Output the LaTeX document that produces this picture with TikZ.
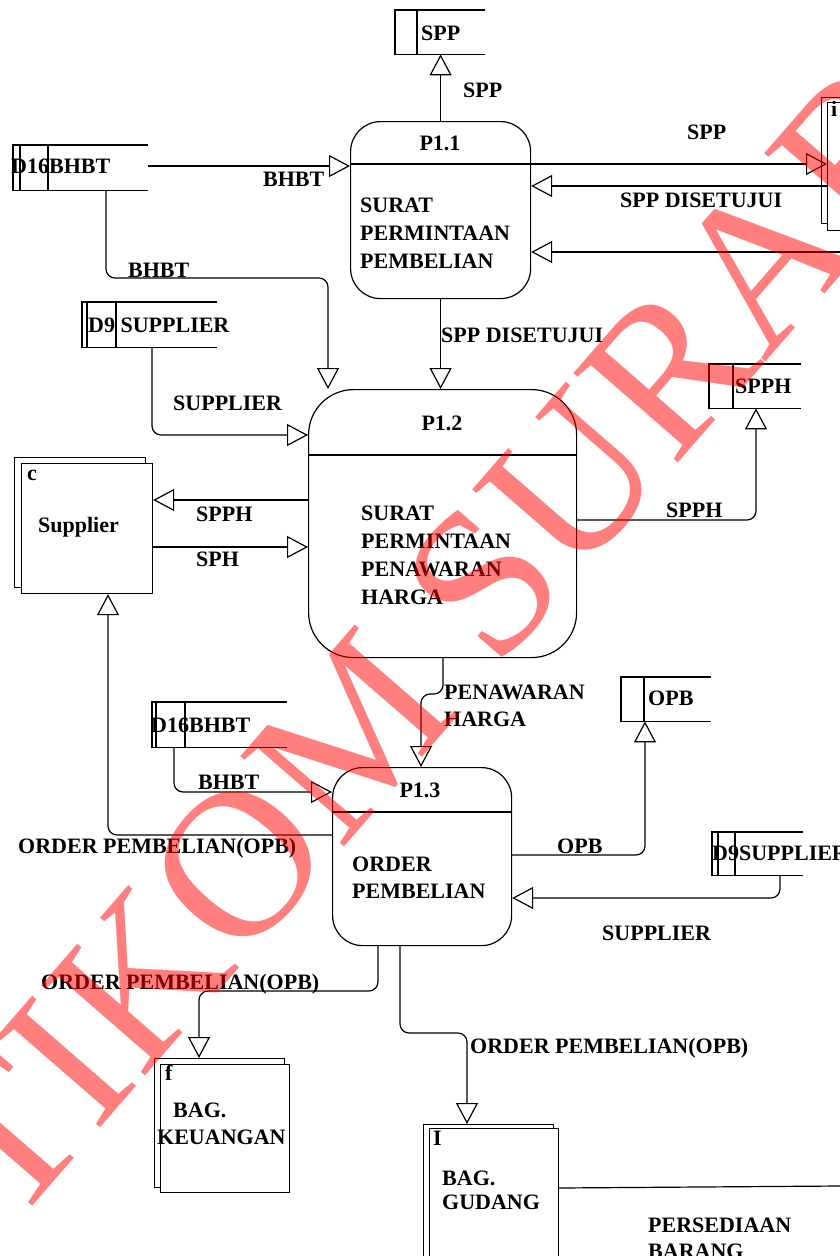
\documentclass[tikz,border=0pt]{standalone}
\usepackage{fontspec}
\setmainfont{Liberation Serif}
\usetikzlibrary{arrows.meta}
\newcommand\lblfont{\bfseries\fontsize{22}{26}\selectfont}
\newcommand\markfont{\fontsize{210}{210}\selectfont}

\begin{document}
\begin{tikzpicture}[x=1pt,y=-1pt,
  ln/.style={line width=1.2pt},
  flow/.style={ln,rounded corners=9pt,-{Triangle[open,length=21pt,width=22pt,line width=1.2pt]}},
  plain/.style={ln,rounded corners=9pt},
  lbl/.style={font=\lblfont,inner sep=0pt,anchor=base west},
  idlbl/.style={font=\lblfont,inner sep=0pt,anchor=base},
  proc/.style={draw,ln,fill=white,inner sep=0pt,anchor=north west},
  holder/.style={inner sep=0pt,anchor=north west},
  ent/.style={draw,ln,fill=white,inner sep=0pt,anchor=north west},
]
\useasboundingbox[fill=white] (0,0) rectangle (840,1256);

% ---------- processes ----------
\node[proc,rounded corners=30pt,minimum width=180pt,minimum height=177pt] (p11) at (350,121) {};
\draw[ln] (p11.west |- 0,164) -- (p11.east |- 0,164);
\node[idlbl] (p11id) at (440,150) {P1.1};
\node[lbl] (p11l1) at (360,212) {SURAT};
\node[lbl] (p11l2) at (360,240) {PERMINTAAN};
\node[lbl] (p11l3) at (360,268) {PEMBELIAN};

\node[proc,rounded corners=45pt,minimum width=268pt,minimum height=268pt] (p12) at (308,389) {};
\draw[ln] (p12.west |- 0,455) -- (p12.east |- 0,455);
\node[idlbl] (p12id) at (442,430) {P1.2};
\node[lbl] (p12l1) at (361,520) {SURAT};
\node[lbl] (p12l2) at (361,548) {PERMINTAAN};
\node[lbl] (p12l3) at (361,576) {PENAWARAN};
\node[lbl] (p12l4) at (361,604) {HARGA};

\node[proc,rounded corners=30pt,minimum width=179pt,minimum height=178pt] (p13) at (332,767) {};
\draw[ln] (p13.west |- 0,812) -- (p13.east |- 0,812);
\node[idlbl] (p13id) at (420,797) {P1.3};
\node[lbl] (p13l1) at (352,871) {ORDER};
\node[lbl] (p13l2) at (352,898) {PEMBELIAN};

% ---------- data stores ----------
\node[holder,minimum width=90pt,minimum height=44pt] (sppS) at (395,10) {};
\draw[ln] (sppS.north east) -- (sppS.north west) -- (sppS.south west) -- (sppS.south east);
\draw[ln] (sppS.north west -| 417,0) -- (sppS.south west -| 417,0);
\node[lbl] (sppSt) at (421,40) {SPP};

\node[holder,minimum width=135pt,minimum height=45pt] (d16a) at (13,145) {};
\draw[ln] (d16a.north east) -- (d16a.north west) -- (d16a.south west) -- (d16a.south east);
\draw[ln] (d16a.north west -| 20,0) -- (d16a.south west -| 20,0);
\draw[ln] (d16a.north west -| 48,0) -- (d16a.south west -| 48,0);
\node[lbl] (d16at) at (11,173) {D16BHBT};

\node[holder,minimum width=135pt,minimum height=45pt] (d9a) at (82,302) {};
\draw[ln] (d9a.north east) -- (d9a.north west) -- (d9a.south west) -- (d9a.south east);
\draw[ln] (d9a.north west -| 87,0) -- (d9a.south west -| 87,0);
\draw[ln] (d9a.north west -| 116,0) -- (d9a.south west -| 116,0);
\node[lbl] (d9at) at (88,332) {D9 SUPPLIER};

\node[holder,minimum width=92pt,minimum height=44pt] (spphS) at (709,364) {};
\draw[ln] (spphS.north east) -- (spphS.north west) -- (spphS.south west) -- (spphS.south east);
\draw[ln] (spphS.north west -| 733,0) -- (spphS.south west -| 733,0);
\node[lbl] (spphSt) at (735,393) {SPPH};

\node[holder,minimum width=135pt,minimum height=45pt] (d16b) at (152,702) {};
\draw[ln] (d16b.north east) -- (d16b.north west) -- (d16b.south west) -- (d16b.south east);
\draw[ln] (d16b.north west -| 156,0) -- (d16b.south west -| 156,0);
\draw[ln] (d16b.north west -| 185,0) -- (d16b.south west -| 185,0);
\node[lbl] (d16bt) at (151,732) {D16BHBT};

\node[holder,minimum width=90pt,minimum height=44pt] (opbS) at (621,677) {};
\draw[ln] (opbS.north east) -- (opbS.north west) -- (opbS.south west) -- (opbS.south east);
\draw[ln] (opbS.north west -| 644,0) -- (opbS.south west -| 644,0);
\node[lbl] (opbSt) at (648,705) {OPB};

\node[holder,minimum width=91pt,minimum height=43pt] (d9b) at (712,832) {};
\draw[ln] (d9b.north east) -- (d9b.north west) -- (d9b.south west) -- (d9b.south east);
\draw[ln] (d9b.north west -| 718,0) -- (d9b.south west -| 718,0);
\draw[ln] (d9b.north west -| 735,0) -- (d9b.south west -| 735,0);
\node[lbl] (d9bt) at (712,860) {D9SUPPLIER};

% ---------- external entities ----------
\node[ent,minimum width=131pt,minimum height=130pt] (supB) at (14,457) {};
\node[ent,minimum width=131pt,minimum height=130pt] (sup) at (21,463) {};
\node[lbl] (supc) at (27,480) {c};
\node[lbl] (supt) at (38,532) {Supplier};

\node[ent,minimum width=60pt,minimum height=126pt] (iB) at (821,97) {};
\node[ent,minimum width=60pt,minimum height=128pt] (iF) at (827,102) {};
\node[lbl] (ic) at (831,116) {i};

\node[ent,minimum width=130pt,minimum height=129pt] (keuB) at (154,1058) {};
\node[ent,minimum width=129pt,minimum height=128pt] (keu) at (160,1064) {};
\node[lbl] (keuc) at (165,1080) {f};
\node[lbl] (keut1) at (173,1117) {BAG.};
\node[lbl] (keut2) at (157,1144) {KEUANGAN};

\node[ent,minimum width=130pt,minimum height=200pt] (gudB) at (423,1124) {};
\node[ent,minimum width=129pt,minimum height=200pt] (gud) at (429,1128) {};
\node[lbl] (gudc) at (433,1145) {I};
\node[lbl] (gudt1) at (442,1185) {BAG.};
\node[lbl] (gudt2) at (442,1209) {GUDANG};

% ---------- data flows ----------
\draw[flow] (p11.north) -- (sppS.south -| p11.north);
\node[lbl] (f1) at (463,97) {SPP};

\draw[flow] (d16a.east |- 0,166) -- (p11.west |- 0,166);
\node[lbl] (f2) at (263,186) {BHBT};

\draw[flow] (d16a.south -| 106,0) -- (106,278) -- (328,278) -- (p12.north -| 328,0);
\node[lbl] (f3) at (128,277) {BHBT};

\draw[flow] (d9a.south -| 152,0) -- (152,435) -- (p12.west |- 0,435);
\node[lbl] (f4) at (173,410) {SUPPLIER};

\draw[flow] (p11.east |- 0,164) -- (iF.west |- 0,164);
\node[lbl] (f5) at (687,139) {SPP};

\draw[flow] (iF.west |- 0,186) -- (p11.east |- 0,186);
\node[lbl] (f6) at (620,207) {SPP DISETUJUI};

\coordinate (rightIn) at (840,252);
\draw[flow] (rightIn) -- (p11.east |- rightIn);

\draw[flow] (p11.south) -- (p12.north -| p11.south);
\node[lbl] (f7) at (441,342) {SPP DISETUJUI};

\draw[flow] (p12.west |- 0,500) -- (sup.east |- 0,500);
\node[lbl] (f8) at (196,521) {SPPH};

\draw[flow] (sup.east |- 0,547) -- (p12.west |- 0,547);
\node[lbl] (f9) at (196,566) {SPH};

\draw[flow] (p12.east |- 0,520) -- (756,520) -- (spphS.south -| 756,0);
\node[lbl] (f10) at (666,517) {SPPH};

\draw[flow] (p12.south -| 443,0) -- (443,694) -- (421,694) -- (p13.north -| 421,0);
\node[lbl] (f11a) at (444,699) {PENAWARAN};
\node[lbl] (f11b) at (444,726) {HARGA};

\draw[flow] (d16b.south -| 174,0) -- (174,792) -- (p13.west |- 0,792);
\node[lbl] (f12) at (198,789) {BHBT};

\draw[flow] (p13.west |- 0,835) -- (108,835) -- (sup.south -| 108,0);
\node[lbl] (f13) at (18,853) {ORDER PEMBELIAN(OPB)};

\draw[flow] (p13.east |- 0,855) -- (645,855) -- (opbS.south -| 645,0);
\node[lbl] (f14) at (557,853) {OPB};

\draw[flow] (d9b.south -| 780,0) -- (780,898) -- (p13.east |- 0,898);
\node[lbl] (f15) at (602,940) {SUPPLIER};

\draw[flow] (p13.south -| 378,0) -- (378,991) -- (199,991) -- (keuB.north -| 199,0);
\node[lbl] (f16) at (41,989) {ORDER PEMBELIAN(OPB)};

\draw[flow] (p13.south -| 400,0) -- (400,1033) -- (467,1033) -- (gudB.north -| 467,0);
\node[lbl] (f17) at (470,1053) {ORDER PEMBELIAN(OPB)};

\coordinate (stockOut) at (840,1186);
\draw[plain] (gud.east |- 0,1188) -- (stockOut);
\node[lbl] (f18a) at (648,1232) {PERSEDIAAN};
\node[lbl] (f18b) at (648,1258) {BARANG};

% ---------- watermark ----------
\node[text=red,opacity=0.5,font=\markfont,rotate=49,inner sep=0pt] (mark) at (529,530) {STIKOM SURABAYA};
\end{tikzpicture}
\end{document}
